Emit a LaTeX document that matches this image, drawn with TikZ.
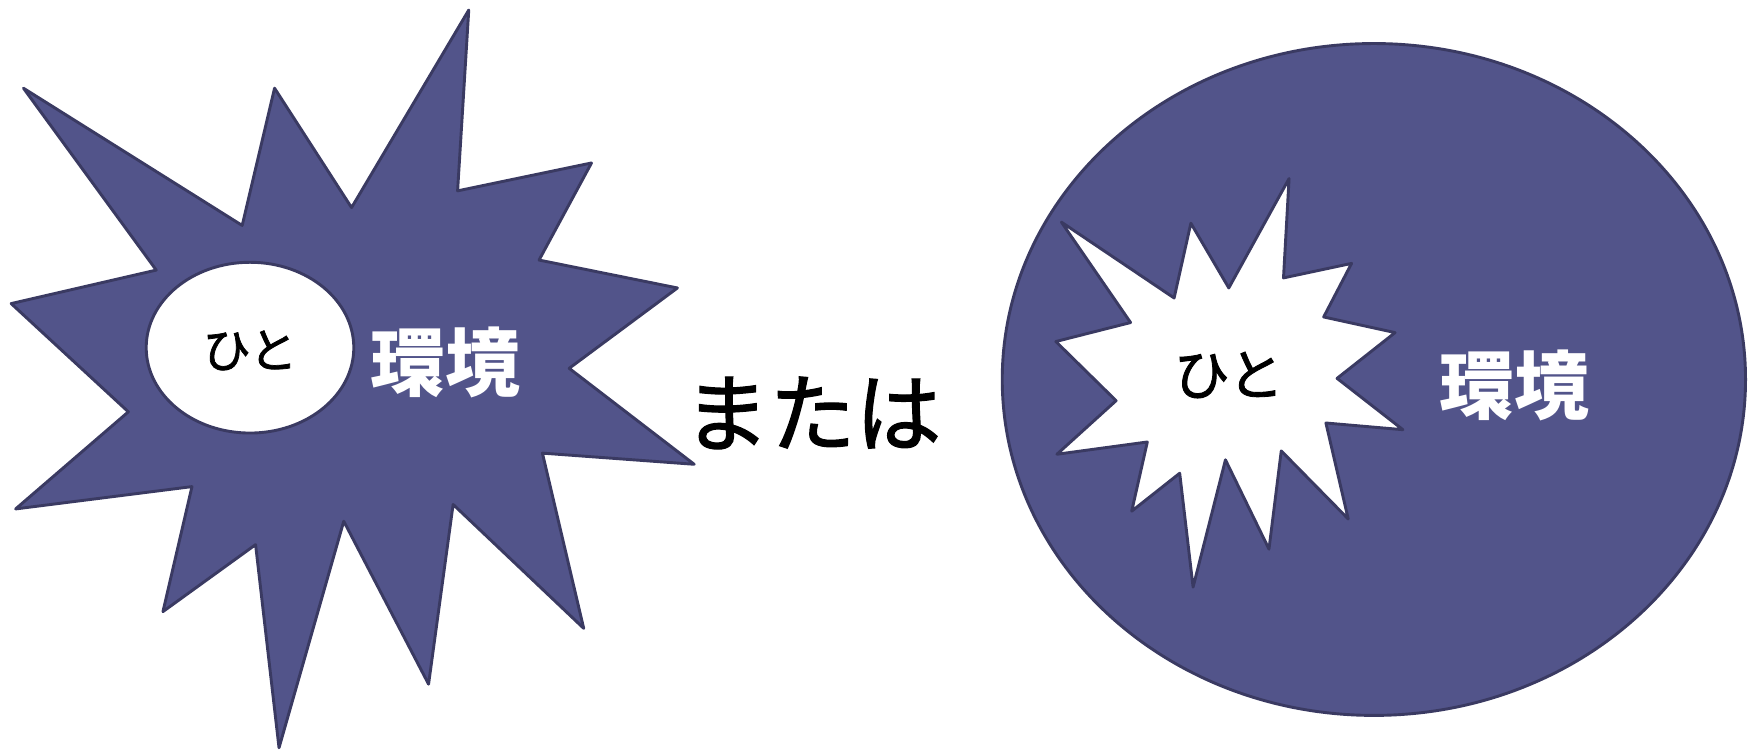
\documentclass[tikz,border=0pt]{standalone}
\usepackage{fontspec}
\newfontfamily\jp{Noto Sans CJK JP}
\newfontfamily\jpheavy[FakeBold=1.5]{Noto Sans CJK JP}
\definecolor{fillc}{RGB}{82,84,138}
\definecolor{edgec}{RGB}{58,58,98}
\begin{document}
\begin{tikzpicture}[x=1pt,y=-1pt,
  darkshape/.style={fill=fillc,draw=edgec,line width=2.6pt,line join=round},
  lightshape/.style={fill=white,draw=edgec,line width=2.6pt,line join=round},
  kana/.style={inner sep=0pt,text=black,font=\jpheavy},
  kanji/.style={inner sep=0pt,text=white,font=\jp\bfseries}]
\useasboundingbox (0,0) rectangle (1568,673);
% left burst
\draw[darkshape] (21,79) -- (217,202) -- (246,79) -- (315,186) -- (420,9) -- (410,171)
  -- (530,146) -- (483,233) -- (607,258) -- (510,330) -- (622,416) -- (486,406)
  -- (523,563) -- (406,452) -- (384,613) -- (308,467) -- (250,670) -- (229,488)
  -- (146,548) -- (172,436) -- (14,456) -- (115,369) -- (10,272) -- (140,242) -- cycle;
\draw[lightshape] (224,311.5) ellipse [x radius=93, y radius=76.5];
\node[kana] (hitoL) at (224,314) {\fontsize{43}{43}\selectfont ひと};
\node[kanji] (kankyoL) at (399,325) {\fontsize{67}{67}\selectfont 環境};
% middle
\node[kana] (mataha) at (728,370) {\fontsize{77}{77}\selectfont または};
% right
\draw[darkshape] (1231,340) ellipse [x radius=333, y radius=301];
\draw[lightshape] (951,199) -- (1052,267) -- (1067,200) -- (1101,258) -- (1155,160)
  -- (1150,249) -- (1211,236) -- (1186,284) -- (1250,298) -- (1198,339) -- (1257,385)
  -- (1188,379) -- (1208,465) -- (1148,404) -- (1137,492) -- (1098,412) -- (1069,526)
  -- (1057,424) -- (1014,458) -- (1028,396) -- (947,407) -- (1000,359) -- (946,306)
  -- (1013,289) -- cycle;
\node[kana] (hitoR) at (1101,336) {\fontsize{50}{50}\selectfont ひと};
\node[kanji] (kankyoR) at (1357,345) {\fontsize{67}{67}\selectfont 環境};
\end{tikzpicture}
\end{document}
